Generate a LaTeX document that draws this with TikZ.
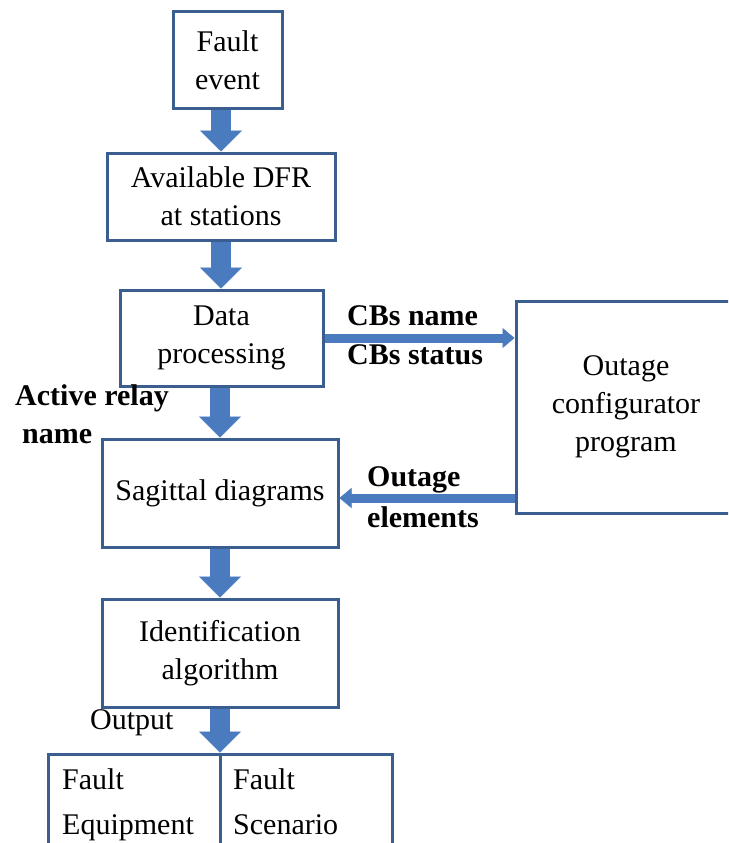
\documentclass[tikz,border=0pt]{standalone}
\usepackage{fontspec}
\setmainfont{Liberation Serif}
\usetikzlibrary{arrows.meta}
\definecolor{boxblue}{HTML}{3A5E8F}
\definecolor{arrblue}{HTML}{4A7BBE}
\begin{document}
\begin{tikzpicture}[x=1pt,y=-1pt,
  box/.style={draw=boxblue,line width=3pt,fill=white,inner sep=0pt,align=center,font=\fontsize{30}{38}\selectfont},
  txt/.style={inner sep=0pt,align=left,anchor=west,font=\fontsize{30}{45}\selectfont},
  lbl/.style={inner sep=0pt,align=left,anchor=west,font=\fontsize{30}{39}\selectfont\bfseries},
  bigarrow/.style={draw=arrblue,line width=20pt,-{Triangle[width=42pt,length=21pt,line width=0.5pt]}},
  thinarrow/.style={draw=arrblue,line width=9pt,-{Triangle[width=20pt,length=12pt,line width=0.5pt]}}]
\useasboundingbox (0,0) rectangle (728,843);
\clip (0,0) rectangle (728,843);
\fill[white] (0,0) rectangle (728,843);

\node[box,minimum width=109pt,minimum height=96pt] (fe) at (227.5,60) {Fault\\event};
\node[box,minimum width=228pt,minimum height=87pt] (dfr) at (221,196.5) {Available DFR\\at stations};
\node[box,minimum width=203pt,minimum height=96pt] (dp) at (221.5,338) {Data\\processing};
\node[box,minimum width=220pt,minimum height=212pt] (oc) at (626,407) {Outage\\configurator\\program};
\node[box,minimum width=236pt,minimum height=108pt] (sd) at (220,493) {Sagittal diagrams};
\node[box,minimum width=236pt,minimum height=108pt] (ia) at (220,653) {Identification\\algorithm};
\node[box,minimum width=172pt,minimum height=130pt] (fq) at (134,819) {};
\node[box,minimum width=172pt,minimum height=130pt] (fs) at (306,819) {};
\node[txt] (fqt) at (62,805) {Fault\\Equipment};
\node[txt] (fst) at (233,805) {Fault\\Scenario\vphantom{Ep}};

\draw[bigarrow] (dfr.north |- fe.south) -- (dfr.north);
\draw[bigarrow] (dfr.south) -- (dfr.south |- dp.north);
\draw[bigarrow] (sd.north |- dp.south) -- (sd.north);
\draw[bigarrow] (sd.south) -- (ia.north);
\draw[bigarrow] (ia.south) -- (ia.south |- fq.north);

\draw[thinarrow] (dp.east) -- (dp.east -| oc.west);
\coordinate (oey) at (0,498);
\draw[thinarrow] (oc.west |- oey) -- (sd.east |- oey);

\node[lbl] (cbs) at (347,335.5) {CBs name\\CBs status};
\node[lbl] (ar) at (15,398) {Active relay};
\node[lbl] (nm) at (22,437) {name};
\node[lbl,font=\fontsize{30}{41}\selectfont\bfseries] (oe) at (367,497.5) {Outage\\elements};
\node[txt] (out) at (90,723) {Output};
\end{tikzpicture}
\end{document}
